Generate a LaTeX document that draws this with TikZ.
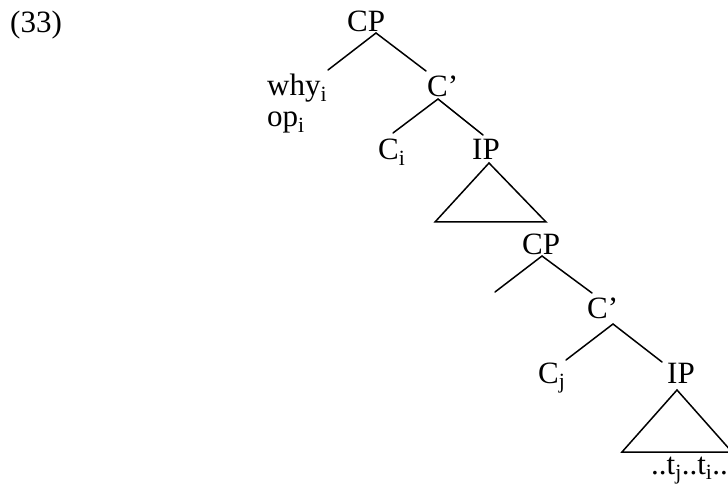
\documentclass[tikz,border=0pt]{standalone}
\usepackage{fontspec}
\setmainfont{Liberation Serif}
\begin{document}
\begin{tikzpicture}[x=1pt,y=-1pt,
  lbl/.style={anchor=base west, inner sep=0pt, font=\fontsize{31}{37}\selectfont},
  edge/.style={line width=1.5pt, line cap=round, line join=miter}]
\useasboundingbox (0,0) rectangle (728,486);
% labels
\node[lbl] (ex) at (10,33) {(33)};
\node[lbl] (cp1) at (347,32) {CP};
\node[lbl] (why) at (267,96) {why\textsubscript{i}};
\node[lbl] (op) at (267,127) {op\textsubscript{i}};
\node[lbl] (cb1) at (427,97) {C’};
\node[lbl] (ci) at (378,160) {C\textsubscript{i}};
\node[lbl] (ip1) at (472,160) {IP};
\node[lbl] (cp2) at (522,255) {CP};
\node[lbl] (cb2) at (587,318) {C’};
\node[lbl] (cj) at (538,383) {C\textsubscript{j}};
\node[lbl] (ip2) at (667,383) {IP};
\node[lbl] (tr) at (651,474) {..t\textsubscript{j}..t\textsubscript{i}..};
% branch points
\coordinate (cp1a) at (376,33);
\coordinate (cp1l) at (328,70);
\coordinate (cp1r) at (426,71);
\coordinate (cb1a) at (438,99);
\coordinate (cb1l) at (393,133);
\coordinate (cb1r) at (483,135);
\coordinate (t1a) at (489,163);
\coordinate (t1l) at (435,222);
\coordinate (t1r) at (546,222);
\coordinate (cp2a) at (542,256);
\coordinate (cp2l) at (495,292);
\coordinate (cp2r) at (592,293);
\coordinate (cb2a) at (613,324);
\coordinate (cb2l) at (566,360);
\coordinate (cb2r) at (662,362);
\coordinate (t2a) at (677,390);
\coordinate (t2l) at (622,452);
\coordinate (t2r) at (732,452);
% edges
\draw[edge] (cp1l) -- (cp1a) -- (cp1r);
\draw[edge] (cb1l) -- (cb1a) -- (cb1r);
\draw[edge] (t1a) -- (t1l) -- (t1r) -- cycle;
\draw[edge] (cp2l) -- (cp2a) -- (cp2r);
\draw[edge] (cb2l) -- (cb2a) -- (cb2r);
\draw[edge] (t2a) -- (t2l) -- (t2r) -- cycle;
\end{tikzpicture}
\end{document}
